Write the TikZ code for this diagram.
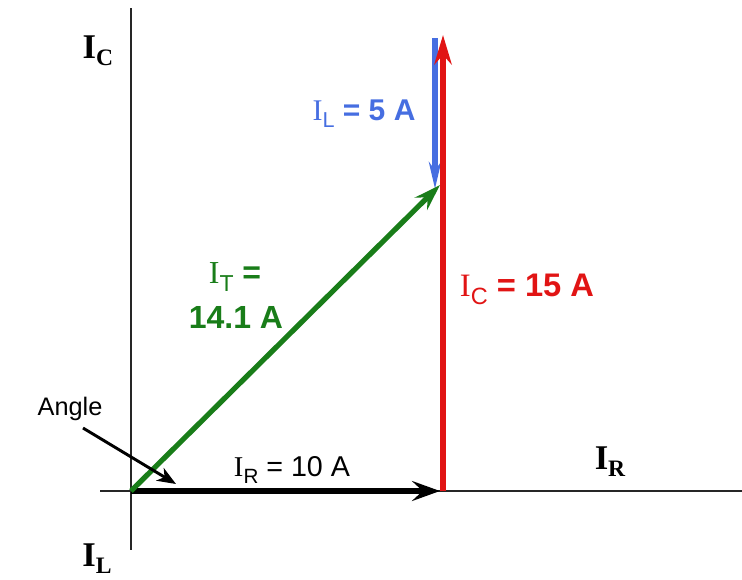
\documentclass[tikz,border=0pt]{standalone}
\usepackage{fontspec}
\setmainfont{Liberation Sans}
\newfontfamily\serifI{Liberation Serif}
\usetikzlibrary{arrows.meta}
\definecolor{vred}{RGB}{225,20,20}
\definecolor{vgreen}{RGB}{25,125,25}
\definecolor{vblue}{RGB}{70,110,225}
\newcommand\cur[1]{{\mdseries\serifI I}\raisebox{-0.45ex}{\scalebox{0.72}{\mdseries #1}}}
\newcommand\axl[1]{{\serifI\bfseries I\raisebox{-0.45ex}{\scalebox{0.68}{#1}}}}
\begin{document}
\begin{tikzpicture}[x=0.75pt,y=-0.75pt,
  axis/.style={line width=1.5pt,black!85},
  vec/.style={line width=3.9pt},
  lbl/.style={inner sep=0pt,anchor=center},
  axlbl/.style={lbl,font=\fontsize{26}{28}\selectfont}]
\useasboundingbox (0,0) rectangle (742,579);
% points
\coordinate (O) at (131,491);
\coordinate (Ytop) at (131,8);
\coordinate (Ybot) at (131,550);
\coordinate (Xl) at (100,491);
\coordinate (Xr) at (742,491);
\coordinate (Rtip) at (440,491);
\coordinate (Cb) at (443,491);
\coordinate (Ct) at (443,35);
\coordinate (Lt) at (435,38);
\coordinate (Lb) at (435,189);
\coordinate (Ttip) at (440,185);
\coordinate (Aa) at (83,428);
\coordinate (Ab) at (176,484);
% axes
\draw[axis] (Ytop) -- (Ybot);
\draw[axis] (Xl) -- (Xr);
% vectors
\draw[vec,line width=4.5pt,black,-{Stealth[length=21pt,width=15pt,inset=8pt]}] (O) -- (Rtip);
\draw[vec,vblue,-{Stealth[length=20pt,width=9pt,inset=6pt]}] (Lt) -- (Lb);
\draw[vec,vred,-{Stealth[length=22pt,width=13pt,inset=7pt]}] (Cb) -- (Ct);
\draw[vec,vgreen,-{Stealth[length=20pt,width=13pt,inset=7pt]}] (O) -- (Ttip);
\draw[line width=2.2pt,-{Stealth[length=14pt,width=11pt,inset=4pt]}] (Aa) -- (Ab);
% axis labels
\node[axlbl] (lIC) at (98,51) {\axl{C}};
\node[axlbl] (lIR) at (610,462) {\axl{R}};
\node[axlbl] (lIL) at (97,559) {\axl{L}};
% vector labels
\node[lbl,font=\fontsize{19}{21}\selectfont] (angle) at (70,409) {Angle};
\node[lbl,font=\fontsize{21.5}{23}\selectfont] (lR) at (292,470) {\cur{R} = 10 A};
\node[lbl,font=\fontsize{24.5}{26}\selectfont\bfseries,text=vred] (lC) at (527,289) {\cur{C} = 15 A};
\node[lbl,font=\fontsize{22.5}{24}\selectfont\bfseries,text=vblue] (lL) at (364,114) {\cur{L} = 5 A};
\node[lbl,font=\fontsize{24}{26}\selectfont\bfseries,text=vgreen] (lT1) at (235,277) {\cur{T} =};
\node[lbl,font=\fontsize{24}{26}\selectfont\bfseries,text=vgreen] (lT2) at (236,317) {14.1 A};
\end{tikzpicture}
\end{document}
